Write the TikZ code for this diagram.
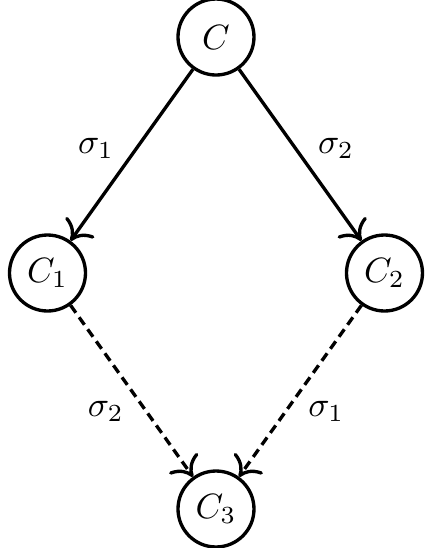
\documentclass[tikz,border=0pt]{standalone}
\usepackage{amsmath}
\usepackage{amsfonts}
\usepackage{tikz}
\usetikzlibrary{arrows.meta}

\begin{document}
\begin{tikzpicture}[line width=0.95pt,
    state/.style={draw, circle, minimum size=0.76cm, inner sep=0pt},
    >={To[length=5pt,width=10pt]}]
      \useasboundingbox (0,0) rectangle (4.37,-5.48);
      \matrix[column sep={1.685cm,between origins}, row sep={2.36cm,between origins}] at (2.16,-2.73)
      {
        & \node[state](C) {$C$}; & \\
        \node[state](C1) {$C_1$}; & & \node[state](C2) {$C_2$}; \\
        & \node[state](C3) {$C_3$}; & \\
      };
      \draw[->] (C) -- (C1) node[pos=0.46, anchor=east, inner sep=6pt] {$\sigma_1$};
      \draw[->] (C) -- (C2) node[pos=0.46, anchor=west, inner sep=6pt] {$\sigma_2$};

      \draw[->, dash pattern=on 2.6pt off 1.6pt] (C1) -- (C3) node[pos=0.62, anchor=east, inner sep=6pt] {$\sigma_2$};
      \draw[->, dash pattern=on 2.6pt off 1.6pt] (C2) -- (C3) node[pos=0.62, anchor=west, inner sep=6pt] {$\sigma_1$};
    \end{tikzpicture}
\end{document}
